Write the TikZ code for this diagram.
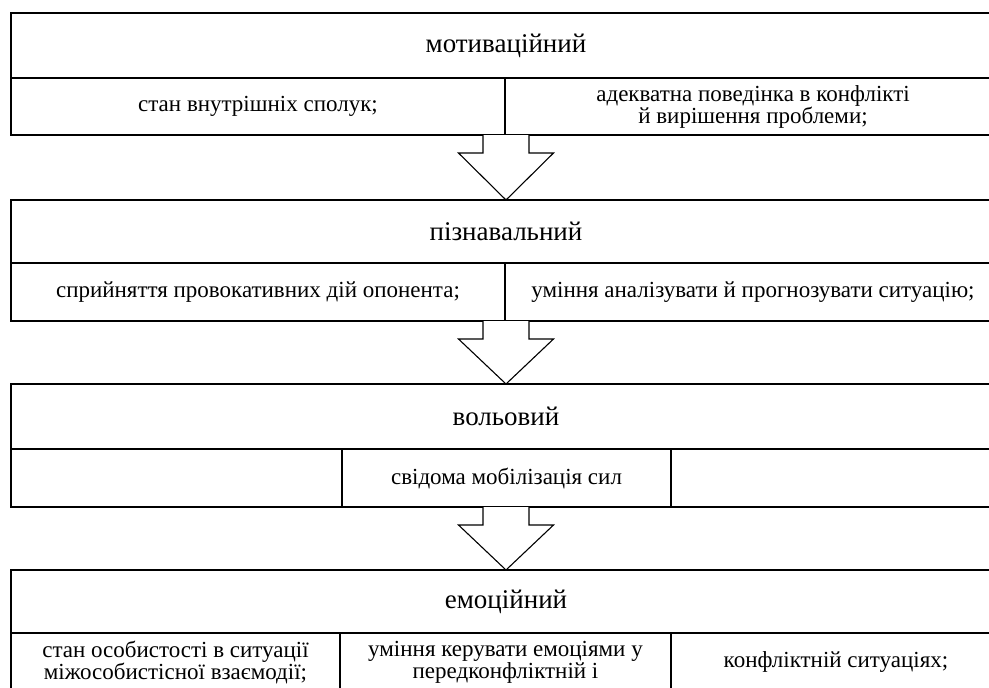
\documentclass[tikz,border=0pt]{standalone}
\usepackage{fontspec}
\setmainfont{Liberation Serif}
\usetikzlibrary{calc}

% one step of the sequence: a header over a row of cells
\tikzset{
    cell/.style={rectangle,draw,line width=1.1pt,anchor=north west,inner sep=0pt,outer sep=0pt,align=center,font=\fontsize{23}{22}\selectfont},
    head/.style={cell,minimum width=990,font=\fontsize{27}{30}\selectfont},
    bigarrow/.style={draw,line width=1.1pt,line join=miter,fill=white}
}

% hollow block arrow from one step down to the next
\newcommand{\flowarrow}[3]{%
    \coordinate (root) at (#1.center |- #2.south);
    \draw[bigarrow] ($(root)+(-23,0)$) -- ++(0,18) -- ++(-24.5,0) -- (#3.north)
        -- ($(root)+(47.5,18)$) -- ++(-24.5,0) -- ++(0,-18);
}

\begin{document}
\begin{tikzpicture}[x=1pt,y=-1pt]
    \clip (0,0) rectangle (989,688);

    % motivational
    \node[head,minimum height=65] (motiv) at (11,13) {мотиваційний};
    \node[cell,minimum width=494,minimum height=57] (motivA) at (11,78) {стан внутрішніх сполук;};
    \node[cell,minimum width=496,minimum height=57] (motivB) at (505,78) {адекватна поведінка в конфлікті\\й вирішення проблеми;};

    % cognitive
    \node[head,minimum height=63] (cogn) at (11,200) {пізнавальний};
    \node[cell,minimum width=494,minimum height=58] (cognA) at (11,263) {сприйняття провокативних дій опонента;};
    \node[cell,minimum width=496,minimum height=58] (cognB) at (505,263) {уміння аналізувати й прогнозувати ситуацію;};

    % volitional
    \node[head,minimum height=65] (vol) at (11,384) {вольовий};
    \node[cell,minimum width=331,minimum height=58] (volA) at (11,449) {};
    \node[cell,minimum width=329,minimum height=58] (volB) at (342,449) {свідома мобілізація сил};
    \node[cell,minimum width=330,minimum height=58] (volC) at (671,449) {};

    % emotional
    \node[head,minimum height=63] (emot) at (11,570) {емоційний};
    \node[cell,minimum width=329,minimum height=58] (emotA) at (11,633) {стан особистості в ситуації\\міжособистісної взаємодії;};
    \node[cell,minimum width=331,minimum height=58] (emotB) at (340,633) {уміння керувати емоціями у\\передконфліктній і};
    \node[cell,minimum width=330,minimum height=58] (emotC) at (671,633) {конфліктній ситуаціях;};

    % arrows
    \flowarrow{motiv}{motivA}{cogn}
    \flowarrow{cogn}{cognA}{vol}
    \flowarrow{vol}{volA}{emot}
\end{tikzpicture}
\end{document}
